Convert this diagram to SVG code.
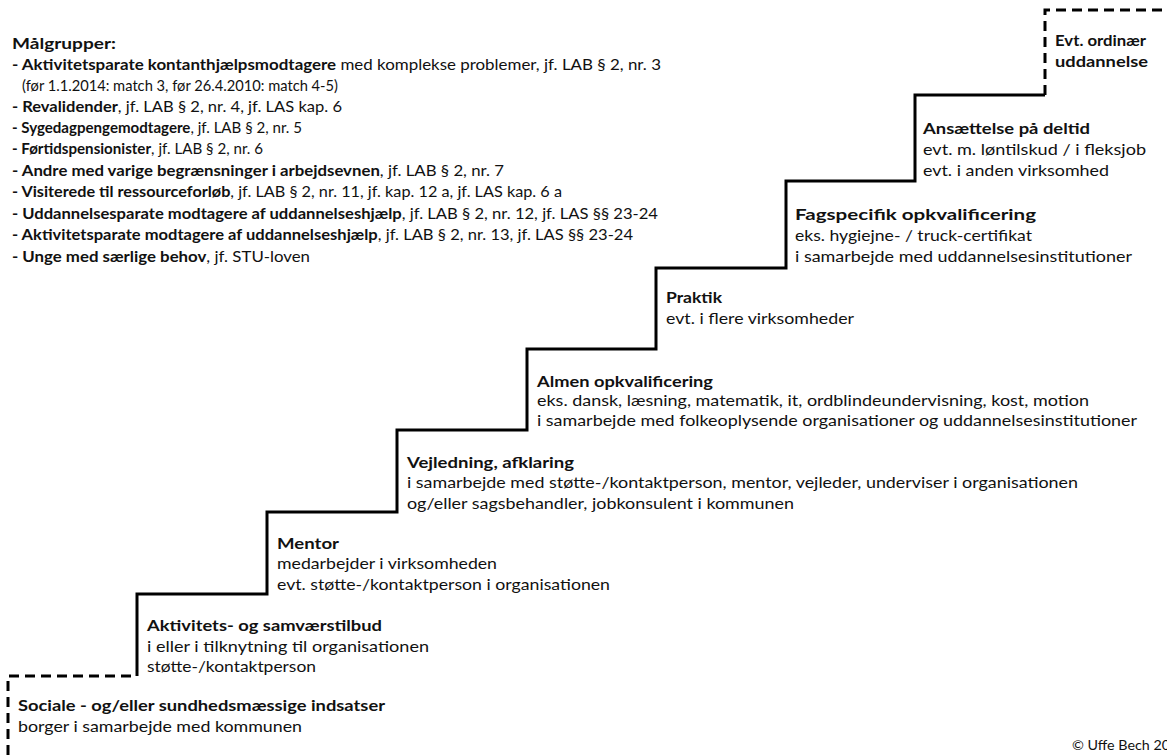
<svg xmlns="http://www.w3.org/2000/svg" width="1167" height="755" viewBox="0 0 1167 755">
  <defs>
    <style>
      text { font-family: Lato, "Open Sans", "Liberation Sans", sans-serif; font-size: 16px; fill: #111; }
      .b { font-weight: bold; }
      .small { font-size: 13px; }
      .stair { fill: none; stroke: #000; stroke-width: 3; stroke-linejoin: miter; }
      .dash { fill: none; stroke: #000; stroke-width: 3; stroke-dasharray: 10 6; }
    </style>
  </defs>
  <rect width="1167" height="755" fill="#fff"/>

  <!-- target group list -->
  <g id="malgrupper">
    <text x="12" y="49" class="b" textLength="104" lengthAdjust="spacingAndGlyphs">Målgrupper:</text>
    <text x="12" y="70" textLength="649" lengthAdjust="spacingAndGlyphs"><tspan class="b">- Aktivitetsparate kontanthjælpsmodtagere</tspan> med komplekse problemer, jf. LAB § 2, nr. 3</text>
    <text x="22" y="91" textLength="316" lengthAdjust="spacingAndGlyphs">(før 1.1.2014: match 3, før 26.4.2010: match 4-5)</text>
    <text x="12" y="112" textLength="330" lengthAdjust="spacingAndGlyphs"><tspan class="b">- Revalidender</tspan>, jf. LAB § 2, nr. 4, jf. LAS kap. 6</text>
    <text x="12" y="133" textLength="290" lengthAdjust="spacingAndGlyphs"><tspan class="b">- Sygedagpengemodtagere</tspan>, jf. LAB § 2, nr. 5</text>
    <text x="12" y="154" textLength="251" lengthAdjust="spacingAndGlyphs"><tspan class="b">- Førtidspensionister</tspan>, jf. LAB § 2, nr. 6</text>
    <text x="12" y="176" textLength="492" lengthAdjust="spacingAndGlyphs"><tspan class="b">- Andre med varige begrænsninger i arbejdsevnen</tspan>, jf. LAB § 2, nr. 7</text>
    <text x="12" y="197" textLength="550" lengthAdjust="spacingAndGlyphs"><tspan class="b">- Visiterede til ressourceforløb</tspan>, jf. LAB § 2, nr. 11, jf. kap. 12 a, jf. LAS kap. 6 a</text>
    <text x="12" y="219" textLength="646" lengthAdjust="spacingAndGlyphs"><tspan class="b">- Uddannelsesparate modtagere af uddannelseshjælp</tspan>, jf. LAB § 2, nr. 12, jf. LAS §§ 23-24</text>
    <text x="12" y="240" textLength="621" lengthAdjust="spacingAndGlyphs"><tspan class="b">- Aktivitetsparate modtagere af uddannelseshjælp</tspan>, jf. LAB § 2, nr. 13, jf. LAS §§ 23-24</text>
    <text x="12" y="262" textLength="298" lengthAdjust="spacingAndGlyphs"><tspan class="b">- Unge med særlige behov</tspan>, jf. STU-loven</text>
  </g>

  <!-- staircase -->
  <g id="connectors">
    <path class="dash" d="M8,755 V676 H137"/>
    <path class="stair" d="M137,676 V594 H267 V512 H397 V430 H527 V349 H656 V268 H786 V181 H915 V95 H1045"/>
    <path class="dash" d="M1045,95 V10 H1167"/>
  </g>

  <!-- steps, bottom to top -->
  <g id="step-sociale">
    <text x="18" y="711" class="b" textLength="367" lengthAdjust="spacingAndGlyphs">Sociale - og/eller sundhedsmæssige indsatser</text>
    <text x="18" y="732" textLength="284" lengthAdjust="spacingAndGlyphs">borger i samarbejde med kommunen</text>
  </g>
  <g id="step-aktivitet">
    <text x="147" y="631" class="b" textLength="235" lengthAdjust="spacingAndGlyphs">Aktivitets- og samværstilbud</text>
    <text x="147" y="652" textLength="282" lengthAdjust="spacingAndGlyphs">i eller i tilknytning til organisationen</text>
    <text x="147" y="672" textLength="169" lengthAdjust="spacingAndGlyphs">støtte-/kontaktperson</text>
  </g>
  <g id="step-mentor">
    <text x="277" y="549" class="b" textLength="62" lengthAdjust="spacingAndGlyphs">Mentor</text>
    <text x="277" y="569" textLength="220" lengthAdjust="spacingAndGlyphs">medarbejder i virksomheden</text>
    <text x="277" y="590" textLength="333" lengthAdjust="spacingAndGlyphs">evt. støtte-/kontaktperson i organisationen</text>
  </g>
  <g id="step-vejledning">
    <text x="407" y="468" class="b" textLength="167" lengthAdjust="spacingAndGlyphs">Vejledning, afklaring</text>
    <text x="407" y="488" textLength="671" lengthAdjust="spacingAndGlyphs">i samarbejde med støtte-/kontaktperson, mentor, vejleder, underviser i organisationen</text>
    <text x="407" y="509" textLength="387" lengthAdjust="spacingAndGlyphs">og/eller sagsbehandler, jobkonsulent i kommunen</text>
  </g>
  <g id="step-almen">
    <text x="537" y="387" class="b" textLength="176" lengthAdjust="spacingAndGlyphs">Almen opkvalificering</text>
    <text x="537" y="406" textLength="552" lengthAdjust="spacingAndGlyphs">eks. dansk, læsning, matematik, it, ordblindeundervisning, kost, motion</text>
    <text x="537" y="426" textLength="600" lengthAdjust="spacingAndGlyphs">i samarbejde med folkeoplysende organisationer og uddannelsesinstitutioner</text>
  </g>
  <g id="step-praktik">
    <text x="666" y="303" class="b" textLength="56" lengthAdjust="spacingAndGlyphs">Praktik</text>
    <text x="666" y="324" textLength="188" lengthAdjust="spacingAndGlyphs">evt. i flere virksomheder</text>
  </g>
  <g id="step-fagspecifik">
    <text x="795" y="220" class="b" textLength="241" lengthAdjust="spacingAndGlyphs">Fagspecifik opkvalificering</text>
    <text x="795" y="241" textLength="237" lengthAdjust="spacingAndGlyphs">eks. hygiejne- / truck-certifikat</text>
    <text x="795" y="262" textLength="337" lengthAdjust="spacingAndGlyphs">i samarbejde med uddannelsesinstitutioner</text>
  </g>
  <g id="step-ansaettelse">
    <text x="923" y="134" class="b" textLength="167" lengthAdjust="spacingAndGlyphs">Ansættelse på deltid</text>
    <text x="923" y="155" textLength="223" lengthAdjust="spacingAndGlyphs">evt. m. løntilskud / i fleksjob</text>
    <text x="923" y="176" textLength="186" lengthAdjust="spacingAndGlyphs">evt. i anden virksomhed</text>
  </g>
  <g id="step-uddannelse">
    <text x="1055" y="46" class="b" textLength="91" lengthAdjust="spacingAndGlyphs">Evt. ordinær</text>
    <text x="1055" y="67" class="b" textLength="93" lengthAdjust="spacingAndGlyphs">uddannelse</text>
  </g>

  <text x="1072" y="750" class="small" textLength="98" lengthAdjust="spacingAndGlyphs">© Uffe Bech 20</text>
</svg>
